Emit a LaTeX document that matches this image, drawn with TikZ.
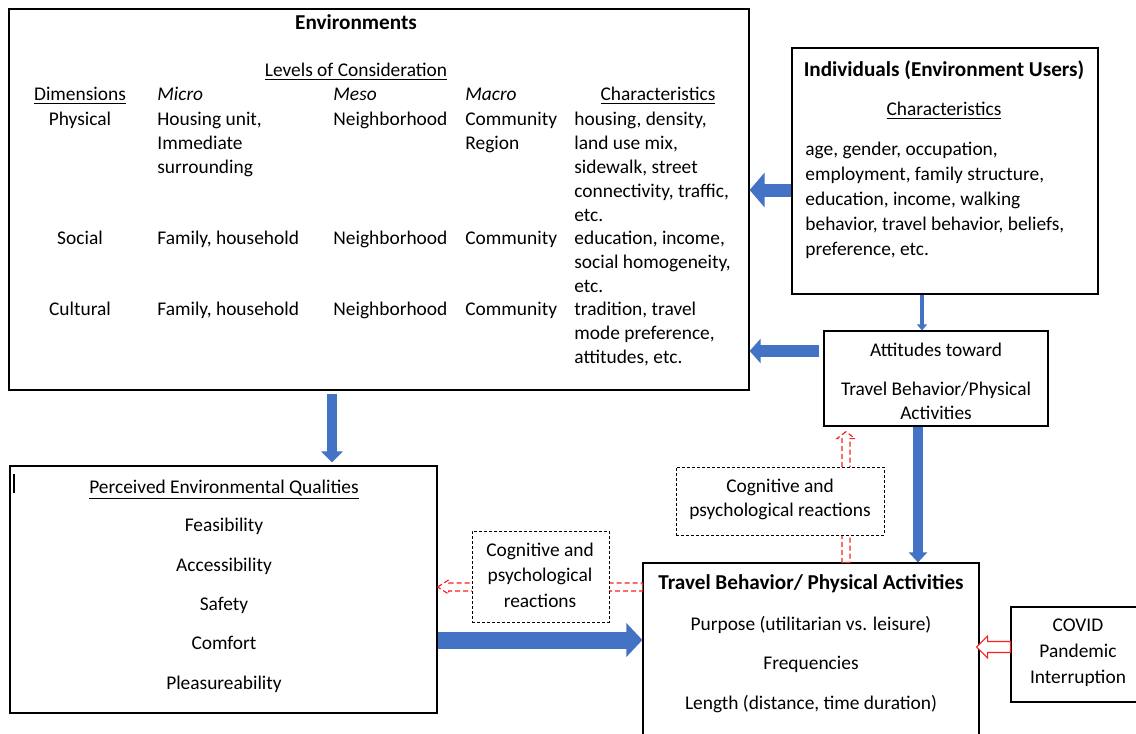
\documentclass[tikz,border=0pt]{standalone}
\usepackage{fontspec}
\setmainfont{Carlito}
\usetikzlibrary{positioning,calc,fit,arrows.meta}
\definecolor{flowblue}{RGB}{68,114,196}
\definecolor{reactred}{RGB}{250,30,30}

\begin{document}
\begin{tikzpicture}[x=0.5pt,y=-0.5pt,
    every node/.style={font=\fontsize{9.7}{12}\selectfont, inner sep=0pt},
    title/.style={font=\fontsize{10.6}{12}\bfseries},
    box/.style={draw, line width=0.6pt, fill=white, inner sep=0pt},
    dashbox/.style={draw, line width=0.5pt, dash pattern=on 1.4pt off 1.1pt, fill=white, inner sep=0pt},
    lbl/.style={anchor=base west, align=left},
    ctr/.style={anchor=base, align=center},
    flow/.style={flowblue, line cap=butt},
    hollowred/.style={draw=reactred, line width=0.6pt, fill=white, line join=miter, dash pattern=on 2.5pt off 1.5pt},
    covidred/.style={draw=reactred, line width=0.6pt, fill=white, line join=miter}]
    \useasboundingbox (0,0) rectangle (1136,734);
    \clip (0,0) rectangle (1136,734);

    % Main boxes
    \node[box, fit={(9,9) (749,390)}] (env) {};
    \node[box, fit={(792,48) (1098,294)}] (ind) {};
    \node[box, fit={(824,331) (1048,426)}] (att) {};
    \node[box, fit={(10,466) (437,713)}] (perc) {};
    \node[box, fit={(643,563) (979,770)}] (trav) {};
    \node[box, fit={(1011,607) (1170,702)}] (covid) {};

    % Environments: levels table (multi-line nodes sit on their last baseline)
    \node[ctr, title] (envtitle) at (356,29) {Environments};
    \node[ctr] (levels) at (356,76) {\underline{Levels of Consideration}};
    \node[ctr] (dimhead) at (80,100) {\underline{Dimensions}};
    \node[lbl] (microhead) at (157,100) {\textit{Micro}};
    \node[lbl] (mesohead) at (333,100) {\textit{Meso}};
    \node[lbl] (macrohead) at (465,100) {\textit{Macro}};
    \node[ctr] (charhead) at (658,100) {\underline{Characteristics}};

    \node[ctr] (physdim) at (80,125) {Physical};
    \node[lbl] (physmicro) at (157,173) {Housing unit,\\Immediate\\surrounding};
    \node[lbl] (physmeso) at (333,125) {Neighborhood};
    \node[lbl] (physmacro) at (465,149) {Community\\Region};
    \node[lbl] (physchar) at (574,221) {housing, density,\\land use mix,\\sidewalk, street\\connectivity, traffic,\\etc.};

    \node[ctr] (socdim) at (80,244) {Social};
    \node[lbl] (socmicro) at (157,244) {Family, household};
    \node[lbl] (socmeso) at (333,244) {Neighborhood};
    \node[lbl] (socmacro) at (465,244) {Community};
    \node[lbl] (socchar) at (574,292) {education, income,\\social homogeneity,\\etc.};

    \node[ctr] (culdim) at (80,315) {Cultural};
    \node[lbl] (culmicro) at (157,315) {Family, household};
    \node[lbl] (culmeso) at (333,315) {Neighborhood};
    \node[lbl] (culmacro) at (465,315) {Community};
    \node[lbl] (culchar) at (574,363) {tradition, travel\\mode preference,\\attitudes, etc.};

    % Individuals
    \node[ctr, title] (indtitle) at (944,76) {Individuals (Environment Users)};
    \node[ctr] (indhead) at (944,115) {\underline{Characteristics}};
    \node[lbl, font=\fontsize{9.7}{12.5}\selectfont] (indchar) at (805,255)
        {age, gender, occupation,\\employment, family structure,\\education, income, walking\\behavior, travel behavior, beliefs,\\preference, etc.};

    % Attitudes
    \node[ctr] (atttop) at (936,356) {Attitudes toward};
    \node[ctr] (attbody) at (936,419) {Travel Behavior/Physical\\Activities};

    % Perceived qualities
    \draw[line width=0.6pt] (14,474) -- (14,493);
    \node[ctr] (perchead) at (224,493) {\underline{Perceived Environmental Qualities}};
    \node[ctr] (feas) at (224,531) {Feasibility};
    \node[ctr] (access) at (224,571) {Accessibility};
    \node[ctr] (safety) at (224,610) {Safety};
    \node[ctr] (comfort) at (224,649) {Comfort};
    \node[ctr] (pleas) at (224,689) {Pleasureability};

    % Travel behavior
    \node[ctr, title] (travtitle) at (811,589) {Travel Behavior/ Physical Activities};
    \node[ctr] (purpose) at (811,630) {Purpose (utilitarian vs. leisure)};
    \node[ctr] (freq) at (811,669) {Frequencies};
    \node[ctr] (length) at (811,709) {Length (distance, time duration)};

    % COVID
    \node[ctr, font=\fontsize{9.7}{13}\selectfont] (covidtext) at (1078,683) {COVID\\Pandemic\\Interruption};

    % Feedback (hollow red) arrows
    \coordinate (fbltip) at (perc.east |- 0,587);
    \coordinate (fbltail) at (trav.west |- 0,587);
    \draw[hollowred] (fbltip) -- ($(fbltip)+(11,-7)$) -- ($(fbltip)+(11,-4)$) -- ($(fbltail)+(0,-4)$)
        -- ($(fbltail)+(0,4)$) -- ($(fbltip)+(11,4)$) -- ($(fbltip)+(11,7)$) -- cycle;
    \coordinate (fbutip) at ($(att.south -| 846,0)+(0,5)$);
    \coordinate (fbutail) at (trav.north -| 846,0);
    \draw[hollowred] (fbutip) -- ($(fbutip)+(-9,7)$) -- ($(fbutip)+(-4,7)$) -- ($(fbutail)+(-4,0)$)
        -- ($(fbutail)+(4,0)$) -- ($(fbutip)+(4,7)$) -- ($(fbutip)+(9,7)$) -- cycle;
    \coordinate (covtip) at ($(trav.east |- 0,647)+(-3,0)$);
    \coordinate (covtail) at (covid.west |- 0,647);
    \draw[covidred] (covtip) -- ($(covtip)+(11,-11)$) -- ($(covtip)+(11,-5.5)$) -- ($(covtail)+(0,-5.5)$)
        -- ($(covtail)+(0,5.5)$) -- ($(covtip)+(11,5.5)$) -- ($(covtip)+(11,11)$) -- cycle;

    % Reaction boxes
    \node[dashbox, fit={(472,531) (609,622)}] (cogl) {};
    \node[ctr, font=\fontsize{9.7}{12.75}\selectfont] (cogltext) at (540,607) {Cognitive and\\psychological\\reactions};
    \node[dashbox, fit={(676,467) (884,535)}] (cogt) {};
    \node[ctr] (cogttext) at (780,516) {Cognitive and\\psychological reactions};

    % Flow (blue block) arrows
    \draw[flow, line width=6.5pt, -{Triangle[width=17pt,length=7.5pt]}] (ind.west |- 0,190) -- (env.east |- 0,190);
    \draw[flow, line width=6pt, -{Triangle[width=12pt,length=5.5pt]}] ($(att.west |- 0,351)+(-4,0)$) -- (env.east |- 0,351);
    \draw[flow, line width=2pt, -{Triangle[width=5pt,length=3pt]}] (ind.south -| 922,0) -- (att.north -| 922,0);
    \draw[flow, line width=5pt, -{Triangle[width=10.5pt,length=5.5pt]}, shorten <=1.5pt, shorten >=1.5pt] (env.south -| 332,0) -- (perc.north -| 332,0);
    \draw[flow, line width=5pt, -{Triangle[width=9pt,length=5pt]}] (att.south -| 918,0) -- (trav.north -| 918,0);
    \draw[flow, line width=8.5pt, -{Triangle[width=16.5pt,length=8pt]}] (perc.east |- 0,640) -- (trav.west |- 0,640);
\end{tikzpicture}
\end{document}
